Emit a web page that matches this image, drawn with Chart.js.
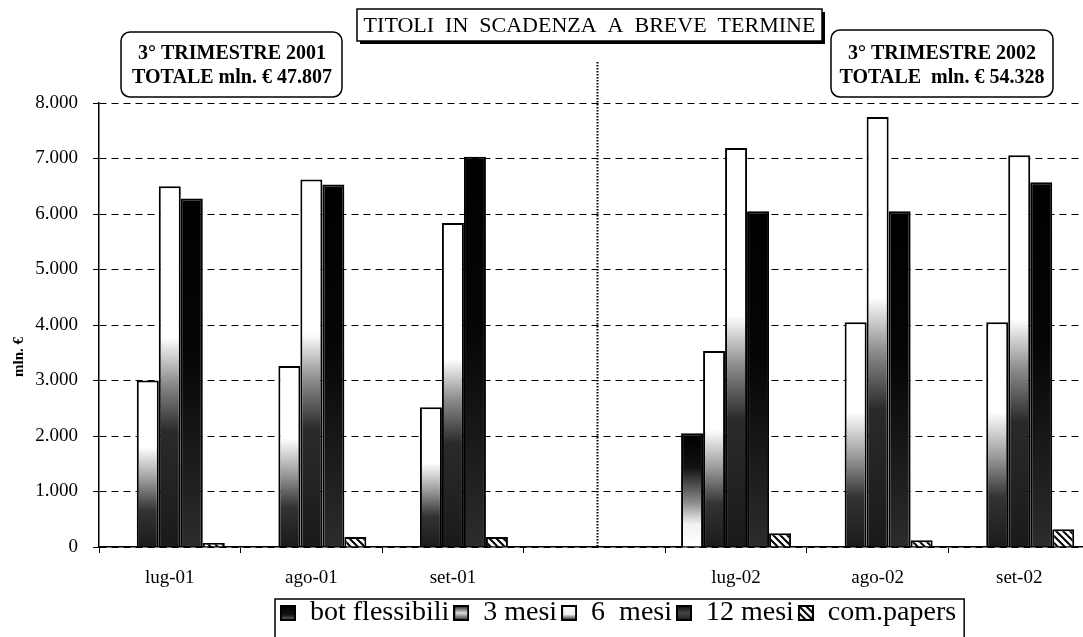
<!DOCTYPE html>
<html>
<head>
<meta charset="utf-8">
<script src="https://cdn.jsdelivr.net/npm/chart.js@4.4.0/dist/chart.umd.min.js"></script>
<style>
  html, body { margin: 0; padding: 0; background: #fff; overflow: hidden; }
  #wrap { width: 1095px; height: 637px; }
</style>
</head>
<body>
<div id="wrap"><canvas id="titoliChart" width="1095" height="637"></canvas></div>
<script>
// Data (mln. €)
const months = ['lug-01', 'ago-01', 'set-01', '', 'lug-02', 'ago-02', 'set-02'];
const botFlessibili = [0, 0, 0, null, 2050, 0, 0];
const mesi3 = [3000, 3260, 2520, null, 3530, 4050, 4050];
const mesi6 = [6500, 6620, 5840, null, 7190, 7750, 7060];
const mesi12 = [6280, 6530, 7030, null, 6050, 6050, 6570];
const comPapers = [70, 180, 180, null, 250, 120, 320];
const yTickLabels = ['0', '1.000', '2.000', '3.000', '4.000', '5.000', '6.000', '7.000', '8.000'];

const serif = "'Liberation Serif', 'Times New Roman', serif";
Chart.defaults.font.family = serif;
Chart.defaults.color = '#000';

// gradient stops, top of bar (0) to bottom (1)
const botStops = [[0, '#000'], [0.3, '#111'], [0.6, '#888'], [0.8, '#f2f2f2'], [1, '#fff']];
const stops3 = [[0, '#fff'], [0.4, '#fff'], [0.6, '#999'], [0.78, '#333'], [1, '#1a1a1a']];
const stops6 = [[0, '#fff'], [0.42, '#fff'], [0.55, '#888'], [0.68, '#2a2a2a'], [1, '#1a1a1a']];
const stops12 = [[0, '#000'], [0.45, '#060606'], [1, '#2c2c2c']];

// legend icon fills
const iconBot = [[0, '#000'], [0.6, '#111'], [1, '#666']];
const icon3 = [[0, '#222'], [0.5, '#ddd'], [1, '#333']];
const icon6 = [[0, '#fff'], [0.6, '#eee'], [1, '#222']];
const icon12 = [[0, '#111'], [0.5, '#444'], [1, '#222']];

function barGradient(context, stops) {
    const chart = context.chart;
    const yScale = chart.scales.y;
    if (context.type !== 'data' || !yScale) return '#000';
    const value = context.raw;
    if (!value) return '#fff';
    const top = yScale.getPixelForValue(value);
    const bottom = yScale.getPixelForValue(0);
    if (!isFinite(top) || !isFinite(bottom) || top === bottom) return '#000';
    const g = chart.ctx.createLinearGradient(0, top, 0, bottom);
    stops.forEach(s => g.addColorStop(s[0], s[1]));
    return g;
}

// hatch tile for com.papers
const hatchTile = document.createElement('canvas');
hatchTile.width = 7; hatchTile.height = 7;
(function () {
    const h = hatchTile.getContext('2d');
    h.fillStyle = '#fff';
    h.fillRect(0, 0, 7, 7);
    h.strokeStyle = '#000';
    h.lineWidth = 2;
    h.beginPath();
    h.moveTo(0, 0); h.lineTo(7, 7);
    h.moveTo(-1, 6); h.lineTo(1, 8);
    h.moveTo(6, -1); h.lineTo(8, 1);
    h.stroke();
})();

const canvas = document.getElementById('titoliChart');
const ctx = canvas.getContext('2d');
const hatch = ctx.createPattern(hatchTile, 'repeat');

// legend icons
function makeIcon(stops, usePattern) {
    const c = document.createElement('canvas');
    c.width = 16; c.height = 16;
    const g = c.getContext('2d');
    if (usePattern) {
        g.fillStyle = g.createPattern(hatchTile, 'repeat');
    } else {
        const lg = g.createLinearGradient(0, 1, 0, 15);
        stops.forEach(s => lg.addColorStop(s[0], s[1]));
        g.fillStyle = lg;
    }
    g.fillRect(1, 1, 14, 14);
    g.strokeStyle = '#000';
    g.lineWidth = 2;
    g.strokeRect(1, 1, 14, 14);
    return c;
}
const legendIcons = [makeIcon(iconBot), makeIcon(icon3), makeIcon(icon6), makeIcon(icon12), makeIcon(null, true)];

function roundRect(c, x, y, w, h, r) {
    c.beginPath();
    c.moveTo(x + r, y);
    c.arcTo(x + w, y, x + w, y + h, r);
    c.arcTo(x + w, y + h, x, y + h, r);
    c.arcTo(x, y + h, x, y, r);
    c.arcTo(x, y, x + w, y, r);
    c.closePath();
}

const legendShift = {
    id: 'legendShift',
    afterLayout(chart) {
        chart.legend.left = 276;
    }
};

const decorations = {
    id: 'decorations',
    afterDraw(chart) {
        const c = chart.ctx;
        const area = chart.chartArea;
        c.save();

        // dotted divider between the two years
        const xDiv = chart.scales.x.getPixelForValue(3);
        c.strokeStyle = '#000';
        c.lineWidth = 2;
        c.setLineDash([1.5, 1.5]);
        c.beginPath();
        c.moveTo(xDiv + 3, 62);
        c.lineTo(xDiv + 3, area.bottom);
        c.stroke();
        c.setLineDash([]);

        // title box with shadow
        c.fillStyle = '#000';
        c.fillRect(360, 12, 465, 32);
        c.fillStyle = '#fff';
        c.fillRect(357, 9, 465, 32);
        c.lineWidth = 1.5;
        c.strokeRect(357, 9, 465, 32);
        c.fillStyle = '#000';
        c.textAlign = 'center';
        c.textBaseline = 'middle';
        c.font = '22px ' + serif;
        c.fillText('TITOLI  IN  SCADENZA  A  BREVE  TERMINE', 589.5, 26);

        // rounded note boxes
        c.lineWidth = 1.5;
        roundRect(c, 121, 32, 221, 65, 9);
        c.fillStyle = '#fff'; c.fill(); c.stroke();
        roundRect(c, 831, 30, 222, 67, 9);
        c.fill(); c.stroke();
        c.fillStyle = '#000';
        c.font = 'bold 20px ' + serif;
        c.fillText('3° TRIMESTRE 2001', 232, 54);
        c.fillText('TOTALE mln. € 47.807', 232, 78);
        c.fillText('3° TRIMESTRE 2002', 942, 54);
        c.fillText('TOTALE  mln. € 54.328', 942, 78);

        // y axis title
        c.save();
        c.translate(19, (area.top + area.bottom) / 2 + 32);
        c.rotate(-Math.PI / 2);
        c.font = 'bold 15px ' + serif;
        c.fillText('mln. €', 0, 0);
        c.restore();

        // legend frame
        const boxes = chart.legend.legendHitBoxes;
        if (boxes && boxes.length) {
            const first = boxes[0], last = boxes[boxes.length - 1];
            const lx = first.left - 5;
            const rx = last.left + last.width + 8;
            const ty = chart.legend.top + 4;
            c.lineWidth = 1.5;
            c.strokeRect(lx, ty, rx - lx, 50);
        }
        c.restore();
    }
};

const barBase = { borderColor: '#000', borderWidth: 2, barPercentage: 1, categoryPercentage: 0.777 };

const titoliChart = new Chart(ctx, {
    type: 'bar',
    data: {
        labels: months,
        datasets: [
            Object.assign({ label: 'bot flessibili', data: botFlessibili, backgroundColor: c => barGradient(c, botStops) }, barBase),
            Object.assign({ label: '3 mesi', data: mesi3, backgroundColor: c => barGradient(c, stops3) }, barBase),
            Object.assign({ label: '6  mesi', data: mesi6, backgroundColor: c => barGradient(c, stops6) }, barBase),
            Object.assign({ label: '12 mesi', data: mesi12, backgroundColor: c => barGradient(c, stops12) }, barBase),
            Object.assign({ label: 'com.papers', data: comPapers, backgroundColor: hatch }, barBase),
        ]
    },
    options: {
        responsive: false,
        animation: false,
        layout: { padding: { top: 103, right: 5, left: 0, bottom: 0 } },
        plugins: {
            legend: {
                position: 'bottom',
                align: 'start',
                labels: {
                    font: { family: serif, size: 28 },
                    color: '#000',
                    padding: 4,
                    usePointStyle: true,
                    pointStyleWidth: 16,
                    boxHeight: 16,
                    generateLabels: chart => chart.data.datasets.map((ds, i) => ({
                        text: ds.label,
                        pointStyle: legendIcons[i],
                        datasetIndex: i,
                        fontColor: '#000',
                        lineWidth: 0,
                        hidden: false
                    }))
                }
            },
            tooltip: { enabled: false }
        },
        scales: {
            x: {
                grid: { offset: true, drawOnChartArea: false, color: '#000', tickLength: 6, tickWidth: 1 },
                border: { color: '#000', width: 1.5 },
                ticks: { font: { size: 19 }, color: '#000', padding: 14, maxRotation: 0, autoSkip: false },
                afterFit: scale => { scale.height = 48; }
            },
            y: {
                min: 0,
                max: 8000,
                ticks: {
                    stepSize: 1000,
                    font: { size: 19 },
                    color: '#000',
                    padding: 15,
                    callback: (v, i) => yTickLabels[i]
                },
                grid: { color: '#000', lineWidth: 1, tickLength: 6, tickColor: '#000', tickWidth: 1 },
                border: { color: '#000', width: 1.5, dash: [7, 5] },
                afterFit: scale => { scale.width = 99; }
            }
        }
    },
    plugins: [legendShift, decorations]
});
</script>
</body>
</html>
